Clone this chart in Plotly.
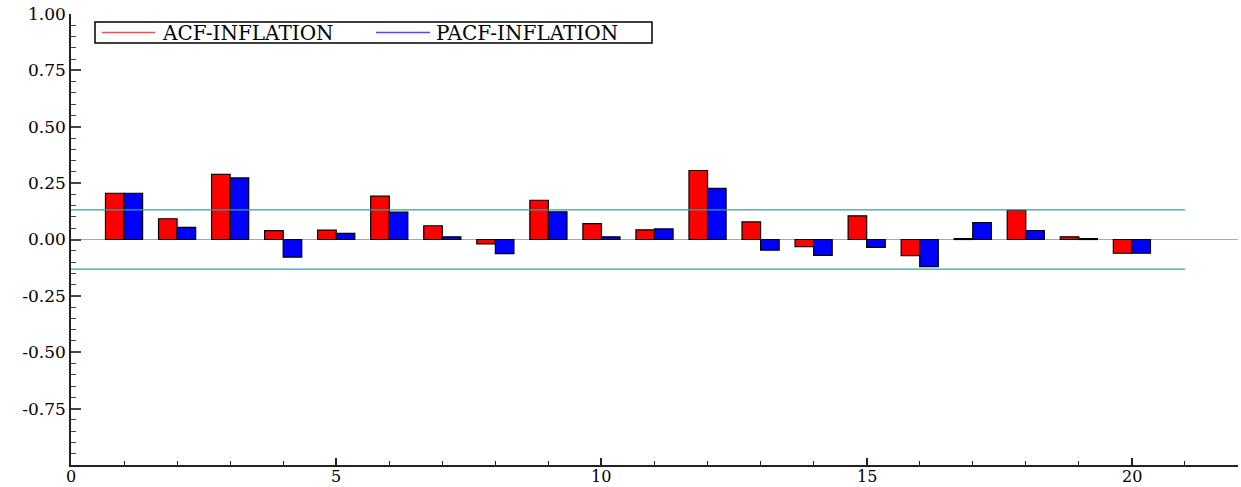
import plotly.graph_objects as go

# Correlogram of inflation: sample ACF and PACF for lags 1..20
lags = list(range(1, 21))
acf_inflation = [0.205, 0.092, 0.289, 0.039, 0.042, 0.192, 0.061, -0.020, 0.174, 0.070,
                 0.043, 0.306, 0.078, -0.032, 0.105, -0.072, 0.004, 0.129, 0.012, -0.061]
pacf_inflation = [0.205, 0.054, 0.273, -0.078, 0.027, 0.121, 0.012, -0.063, 0.123, 0.012,
                  0.047, 0.227, -0.047, -0.070, -0.035, -0.120, 0.075, 0.040, 0.004, -0.061]
conf_band = 0.131          # approximate 95% significance bound
band_end = 21              # bands run from lag 0 to lag 21

series_names = ["ACF-INFLATION", "PACF-INFLATION"]
y_ticks = [-0.75, -0.5, -0.25, 0.0, 0.25, 0.5, 0.75, 1.0]
y_tick_text = ["-0.75", "-0.50", "-0.25", "0.00", "0.25", "0.50", "0.75", "1.00"]
x_ticks = [0, 5, 10, 15, 20]

SERIF = "DejaVu Serif, Liberation Serif, serif"
BAR_W = 0.35
W, H = 1241, 487
M_L, M_R, M_T, M_B = 71, 3, 14, 22
PW, PH = W - M_L - M_R, H - M_T - M_B


def px_x(px):
    """pixel column -> paper fraction"""
    return (px - M_L) / PW


def px_y(py):
    """pixel row -> paper fraction"""
    return 1 - (py - M_T) / PH


fig = go.Figure()

fig.add_trace(go.Bar(
    x=lags, y=acf_inflation, width=BAR_W, offset=-BAR_W,
    marker=dict(color="#ff0000", line=dict(color="black", width=1.2)),
    showlegend=False, name=series_names[0],
))
fig.add_trace(go.Bar(
    x=lags, y=pacf_inflation, width=BAR_W, offset=0,
    marker=dict(color="#0000ff", line=dict(color="black", width=1.2)),
    showlegend=False, name=series_names[1],
))

# significance bands
for sgn in (1, -1):
    fig.add_trace(go.Scatter(
        x=[0, band_end], y=[sgn * conf_band] * 2, mode="lines",
        line=dict(color="#3a9e9a", width=1.3), showlegend=False, hoverinfo="skip",
    ))

# boxed legend with line keys
leg_y = px_y(32.5)
fig.add_shape(type="rect", xref="paper", yref="paper",
              x0=px_x(95), x1=px_x(652), y0=px_y(43), y1=px_y(22),
              line=dict(color="black", width=1.5), fillcolor="white", layer="above")
for (k0, k1, tx), col, name in zip([(102, 155, 160), (376, 430, 434)],
                                   ["#ff4a4a", "#4a4aff"], series_names):
    fig.add_shape(type="line", xref="paper", yref="paper",
                  x0=px_x(k0), x1=px_x(k1), y0=leg_y, y1=leg_y,
                  line=dict(color=col, width=1.5), layer="above")
    fig.add_annotation(xref="paper", yref="paper", x=px_x(tx), y=leg_y,
                       xanchor="left", yanchor="middle", showarrow=False,
                       text=name, font=dict(family=SERIF, size=20, color="black"))

# x tick labels placed tight under the axis line
for xv in x_ticks:
    fig.add_annotation(xref="x", yref="paper", x=xv, y=0, yshift=-11,
                       xanchor="center", yanchor="middle", showarrow=False,
                       text=str(xv), font=dict(family=SERIF, size=16, color="black"))

fig.update_layout(
    width=W, height=H,
    margin=dict(l=M_L, r=M_R, t=M_T, b=M_B, autoexpand=False),
    paper_bgcolor="white", plot_bgcolor="white",
    barmode="overlay", showlegend=False,
    font=dict(family=SERIF, size=16, color="black"),
    xaxis=dict(
        range=[0, 22], showgrid=False, zeroline=False, automargin=False,
        showline=True, linecolor="#222", linewidth=1.5,
        tickmode="array", tickvals=x_ticks, ticks="inside", ticklen=7,
        tickcolor="#222", tickwidth=1.5, showticklabels=False,
        minor=dict(dtick=1, tick0=0, ticks="inside", ticklen=4, tickcolor="#222", tickwidth=1.2),
    ),
    yaxis=dict(
        range=[-1, 1], showgrid=False, automargin=False,
        zeroline=True, zerolinecolor="#a8a8a8", zerolinewidth=1.2,
        showline=True, linecolor="#222", linewidth=1.5,
        tickmode="array", tickvals=y_ticks, ticktext=y_tick_text,
        ticks="inside", ticklen=10, tickcolor="#444", tickwidth=1.5,
        minor=dict(dtick=0.05, tick0=0, ticks="inside", ticklen=5, tickcolor="#444", tickwidth=1.2),
        tickfont=dict(family=SERIF, size=17, color="black"),
    ),
)

fig.write_html("out.html")
